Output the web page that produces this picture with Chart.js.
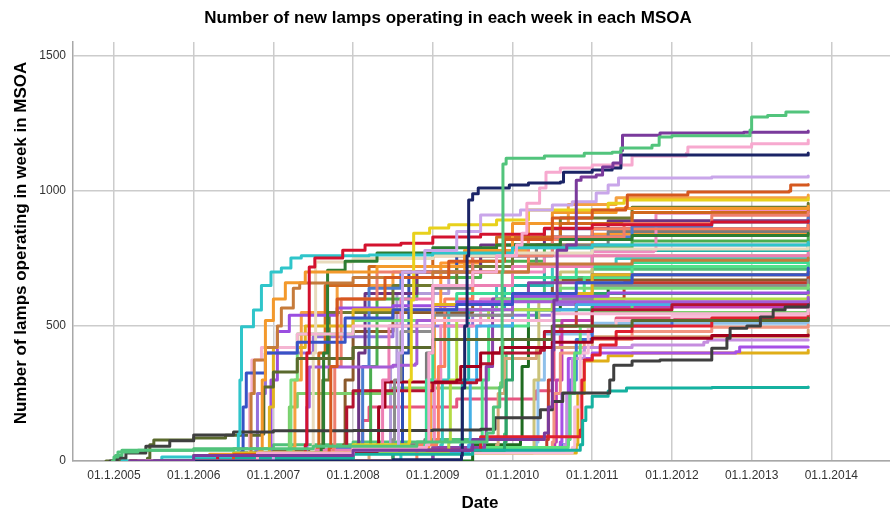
<!DOCTYPE html>
<html><head><meta charset="utf-8">
<script src="https://cdn.jsdelivr.net/npm/chart.js@4.4.0/dist/chart.umd.min.js"></script>
<style>html,body{margin:0;padding:0;background:#fff;}canvas{display:block;}</style>
</head><body>
<canvas id="c" width="890" height="516"></canvas>
<script>
const titleText = "Number of new lamps operating in each week in each MSOA";
const xTitleText = "Date";
const yTitleText = "Number of lamps operating in week in MSOA";
const xTickYears = [2005, 2006, 2007, 2008, 2009, 2010, 2011, 2012, 2013, 2014];
const yTickValues = [0, 500, 1000, 1500];
const xRange = [2004.486, 2014.736];
const yRange = [0, 1552];

// Each MSOA: [decimal year, cumulative lamps]
const msoa01 = [[2004.98,0],[2005.0,15],[2005.05,33],[2005.3,40],[2006.5,45],[2007.5,55],[2008.8,70],[2009.68,104],[2009.76,200],[2009.84,274],[2009.87,700],[2009.88,1100],[2009.92,1121],[2010.4,1130],[2010.9,1140],[2011.25,1144],[2011.36,1159],[2011.75,1170],[2011.84,1200],[2012.0,1205],[2012.98,1226],[2013.0,1274],[2013.2,1280],[2013.43,1293],[2013.71,1293]];
const msoa02 = [[2005.2,0],[2006.0,20],[2008.0,40],[2009.5,80],[2010.40,104],[2010.45,200],[2010.50,411],[2010.52,596],[2010.56,781],[2010.68,800],[2010.80,1040],[2010.86,1052],[2011.05,1059],[2011.13,1089],[2011.26,1104],[2011.36,1150],[2011.38,1207],[2011.85,1215],[2012.9,1218],[2013.71,1222]];
const msoa03 = [[2005.5,0],[2008.5,5],[2009.36,20],[2009.37,270],[2009.40,500],[2009.43,760],[2009.45,967],[2009.50,990],[2009.57,1011],[2009.96,1022],[2010.2,1030],[2010.6,1033],[2010.64,1070],[2011.0,1078],[2011.25,1085],[2011.36,1133],[2013.71,1141]];
const msoa04 = [[2005.4,0],[2006.8,30],[2008.0,50],[2008.92,60],[2008.95,400],[2009.0,650],[2009.5,700],[2009.8,760],[2010.05,800],[2010.12,844],[2010.18,955],[2010.34,1011],[2010.42,1070],[2010.6,1085],[2011.0,1096],[2011.5,1130],[2012.18,1140],[2012.2,1163],[2013.0,1175],[2013.71,1189]];
const msoa05 = [[2005.3,0],[2007.0,25],[2008.0,40],[2008.55,50],[2008.57,400],[2008.62,700],[2008.9,780],[2009.3,850],[2009.6,911],[2010.1,930],[2010.5,948],[2010.75,960],[2011.05,993],[2011.2,1022],[2011.33,1048],[2012.5,1052],[2013.71,1056]];
const msoa06 = [[2005.3,0],[2006.5,25],[2007.7,50],[2007.72,350],[2007.8,600],[2008.4,680],[2009.2,740],[2009.9,820],[2010.5,900],[2011.0,930],[2011.42,940],[2011.44,985],[2012.2,996],[2013.47,1000],[2013.49,1022],[2013.71,1024]];
const msoa07 = [[2005.4,0],[2006.5,30],[2008.0,60],[2008.70,70],[2008.71,300],[2008.73,596],[2008.76,844],[2008.96,863],[2009.2,875],[2009.8,893],[2010.2,930],[2011.2,955],[2011.4,967],[2013.71,974]];
const msoa08 = [[2005.2,0],[2006.3,20],[2007.40,60],[2007.42,400],[2007.45,719],[2007.52,752],[2007.87,781],[2008.15,800],[2008.6,807],[2009.0,830],[2009.6,840],[2010.4,862],[2011.0,875],[2012.5,885],[2013.71,890]];
const msoa09 = [[2005.1,0],[2005.6,15],[2006.5,30],[2006.56,100],[2006.58,300],[2006.60,497],[2006.75,559],[2006.85,650],[2006.97,700],[2007.1,715],[2007.22,752],[2007.35,760],[2008.2,763],[2009.0,770],[2010.0,790],[2011.0,800],[2013.71,810]];
const msoa10 = [[2004.95,0],[2005.04,10],[2005.15,30],[2005.4,55],[2005.7,75],[2006.0,96],[2006.5,107],[2007.0,112],[2008.0,113],[2009.0,115],[2009.6,118],[2009.78,160],[2010.35,190],[2010.5,220],[2010.63,252],[2011.18,252],[2011.22,300],[2011.27,355],[2011.5,370],[2011.85,374],[2012.50,418],[2012.69,455],[2012.73,492],[2012.94,500],[2013.11,533],[2013.27,560],[2013.42,570],[2013.71,578]];
const msoa11 = [[2005.3,0],[2006.0,10],[2008.0,25],[2009.5,40],[2010.85,60],[2010.88,150],[2010.92,200],[2011.0,240],[2011.2,259],[2011.43,270],[2012.5,272],[2013.71,274]];
const msoa12 = [[2005.3,0],[2006.2,25],[2006.83,40],[2006.86,300],[2006.9,520],[2007.0,600],[2007.15,660],[2007.4,700],[2008.3,720],[2009.4,780],[2010.0,880],[2010.5,920],[2011.3,935],[2013.71,944]];
const msoa13 = [[2005.2,0],[2006.0,15],[2006.70,30],[2006.72,250],[2006.76,374],[2006.9,420],[2007.05,500],[2007.1,567],[2007.25,640],[2007.33,659],[2008.0,680],[2009.0,700],[2010.2,730],[2011.5,744],[2013.71,752]];
const msoa14 = [[2005.3,0],[2006.2,20],[2006.60,35],[2006.62,200],[2006.66,326],[2006.9,400],[2007.3,440],[2007.9,530],[2008.5,560],[2009.3,580],[2010.0,620],[2010.8,660],[2011.5,690],[2013.71,715]];
const msoa15 = [[2005.4,0],[2006.68,20],[2006.70,250],[2006.73,374],[2006.85,420],[2007.3,470],[2008.0,500],[2009.0,520],[2010.5,545],[2013.71,559]];
const msoa16 = [[2004.9,0],[2005.42,10],[2005.45,60],[2005.5,78],[2006.0,85],[2006.4,95],[2006.85,100],[2006.88,274],[2007.0,330],[2007.3,380],[2008.0,420],[2009.0,450],[2010.5,500],[2011.5,520],[2013.71,530]];
const msoa17 = [[2005.3,0],[2006.5,30],[2007.60,50],[2007.63,400],[2007.68,707],[2007.9,740],[2008.3,770],[2009.0,790],[2009.8,800],[2010.6,820],[2011.5,835],[2013.71,844]];
const msoa18 = [[2005.5,0],[2007.0,30],[2007.48,40],[2007.50,400],[2007.53,737],[2008.0,750],[2009.0,760],[2010.0,770],[2011.0,785],[2013.71,793]];
const msoa19 = [[2005.3,0],[2006.9,20],[2006.95,200],[2007.0,420],[2007.4,500],[2008.0,560],[2009.0,580],[2010.0,620],[2011.0,690],[2013.71,700]];
const msoa20 = [[2005.3,0],[2006.5,20],[2006.95,40],[2006.97,300],[2007.05,480],[2007.2,540],[2007.8,567],[2008.5,575],[2009.3,590],[2010.0,610],[2011.2,622],[2013.71,626]];
const msoa21 = [[2005.4,0],[2007.0,25],[2007.4,40],[2007.42,200],[2007.45,348],[2008.5,355],[2008.78,360],[2008.8,520],[2009.0,560],[2010.0,590],[2013.71,607]];
const msoa22 = [[2005.3,0],[2006.0,20],[2007.2,35],[2007.22,300],[2007.3,470],[2008.0,520],[2009.0,560],[2009.8,600],[2010.6,640],[2013.71,652]];
const msoa23 = [[2005.5,0],[2007.0,30],[2007.75,50],[2007.77,350],[2007.85,600],[2008.3,700],[2009.5,760],[2010.5,830],[2011.4,880],[2012.5,910],[2013.71,922]];
const msoa24 = [[2005.3,0],[2007.5,40],[2008.35,60],[2008.37,300],[2008.45,500],[2008.6,600],[2009.0,650],[2010.0,720],[2011.0,760],[2013.71,770]];
const msoa25 = [[2005.4,0],[2007.8,50],[2008.1,60],[2008.12,350],[2008.2,640],[2008.6,700],[2009.5,760],[2010.5,830],[2011.5,870],[2012.5,885],[2013.71,900]];
const msoa26 = [[2005.3,0],[2008.0,40],[2008.9,60],[2008.92,300],[2009.0,560],[2009.3,620],[2010.0,680],[2010.8,720],[2011.5,735],[2013.71,744]];
const msoa27 = [[2005.3,0],[2008.0,50],[2008.5,80],[2008.52,300],[2008.6,480],[2009.0,540],[2010.0,600],[2011.0,650],[2013.71,670]];
const msoa28 = [[2005.3,0],[2007.0,30],[2008.3,60],[2008.32,200],[2008.4,293],[2009.3,300],[2009.35,350],[2009.6,400],[2009.85,420],[2010.5,440],[2011.0,455],[2012.5,465],[2013.71,467]];
const msoa29 = [[2005.5,0],[2008.0,40],[2009.6,90],[2010.85,115],[2010.87,300],[2010.9,374],[2011.0,393],[2011.1,430],[2011.3,480],[2011.5,500],[2012.5,530],[2013.71,548]];
const msoa30 = [[2005.3,0],[2006.5,20],[2007.9,40],[2007.92,200],[2008.0,260],[2009.0,290],[2009.55,300],[2009.6,360],[2009.75,400],[2010.35,410],[2010.4,480],[2011.0,560],[2012.0,580],[2013.71,589]];
const msoa31 = [[2005.4,0],[2008.8,60],[2009.05,80],[2009.07,350],[2009.15,600],[2009.5,700],[2010.2,820],[2011.0,860],[2013.71,874]];
const msoa32 = [[2005.3,0],[2007.5,35],[2009.2,70],[2009.22,300],[2009.3,520],[2009.7,560],[2010.5,600],[2013.71,615]];
const msoa33 = [[2005.3,0],[2008.0,30],[2009.45,60],[2009.47,300],[2009.55,500],[2010.0,560],[2010.8,580],[2013.71,596]];
const msoa34 = [[2005.5,0],[2009.0,50],[2009.65,70],[2009.67,350],[2009.75,600],[2010.2,660],[2011.0,690],[2013.71,700]];
const msoa35 = [[2005.3,0],[2008.5,40],[2009.9,70],[2009.92,300],[2010.0,520],[2010.3,560],[2011.0,620],[2013.71,640]];
const msoa36 = [[2005.4,0],[2009.0,50],[2010.70,80],[2010.72,250],[2010.78,400],[2010.85,500],[2011.0,560],[2011.5,580],[2013.71,585]];
const msoa37 = [[2005.5,0],[2009.0,30],[2010.75,50],[2010.78,200],[2010.85,400],[2010.95,500],[2011.3,520],[2012.0,535],[2013.71,570]];
const msoa38 = [[2005.4,0],[2009.0,40],[2010.65,60],[2010.68,250],[2010.75,380],[2010.9,420],[2011.5,430],[2012.4,440],[2012.45,448],[2013.71,448]];
const msoa39 = [[2005.3,0],[2008.0,40],[2010.60,70],[2010.62,250],[2010.7,380],[2011.0,400],[2012.8,405],[2012.85,422],[2013.71,422]];
const msoa40 = [[2005.3,0],[2008.0,30],[2010.80,60],[2010.82,250],[2010.9,370],[2011.2,390],[2011.5,400],[2013.71,410]];
const msoa41 = [[2005.3,0],[2009.0,40],[2010.6,60],[2010.70,80],[2010.72,300],[2010.8,450],[2011.0,500],[2012.0,520],[2013.71,559]];
const msoa42 = [[2005.3,0],[2008.5,40],[2010.50,70],[2010.52,250],[2010.6,400],[2010.9,450],[2011.5,480],[2012.5,495],[2013.71,504]];
const msoa43 = [[2005.4,0],[2008.2,40],[2009.80,60],[2009.82,250],[2009.9,380],[2010.3,420],[2011.0,460],[2013.71,485]];
const msoa44 = [[2005.3,0],[2006.9,30],[2007.55,50],[2007.57,400],[2007.65,650],[2008.2,720],[2009.0,760],[2009.8,830],[2010.6,880],[2011.5,920],[2013.71,937]];
const msoa45 = [[2005.2,0],[2006.0,20],[2007.60,40],[2007.62,300],[2007.7,550],[2008.5,650],[2009.3,720],[2010.0,800],[2010.6,900],[2011.5,940],[2013.71,955]];
const msoa46 = [[2005.3,0],[2006.8,30],[2007.25,50],[2007.27,300],[2007.35,550],[2007.8,650],[2008.5,700],[2009.4,780],[2010.2,880],[2010.7,950],[2011.3,975],[2013.71,985]];
const msoa47 = [[2005.4,0],[2007.6,40],[2008.05,60],[2008.07,400],[2008.15,620],[2008.8,700],[2009.6,800],[2010.4,860],[2011.2,890],[2013.71,911]];
const msoa48 = [[2005.3,0],[2007.5,40],[2009.00,60],[2009.02,300],[2009.1,500],[2009.6,600],[2010.0,700],[2010.4,760],[2011.0,775],[2011.77,781],[2011.80,918],[2012.5,925],[2013.71,930]];
const msoa49 = [[2005.5,0],[2008.5,60],[2008.90,80],[2008.92,400],[2009.0,640],[2009.5,720],[2010.3,800],[2011.2,850],[2013.71,874]];
const msoa50 = [[2005.3,0],[2007.0,30],[2008.20,50],[2008.22,350],[2008.3,600],[2008.8,680],[2009.6,740],[2010.4,790],[2011.5,815],[2013.71,830]];
const msoa51 = [[2005.4,0],[2008.5,40],[2009.35,60],[2009.37,300],[2009.45,560],[2009.9,650],[2010.4,720],[2011.0,780],[2013.71,807]];
const msoa52 = [[2005.3,0],[2008.0,30],[2010.25,50],[2010.27,300],[2010.33,596],[2010.6,700],[2011.0,760],[2013.71,793]];
const msoa53 = [[2005.4,0],[2008.0,40],[2009.60,60],[2009.62,300],[2009.7,500],[2010.2,600],[2010.9,680],[2011.5,720],[2013.71,733]];
const msoa54 = [[2005.3,0],[2008.6,40],[2009.10,60],[2009.12,300],[2009.2,560],[2009.8,650],[2010.5,720],[2011.3,750],[2013.71,763]];
const msoa55 = [[2005.3,0],[2009.0,50],[2010.43,80],[2010.45,300],[2010.5,500],[2010.8,600],[2011.4,660],[2013.71,685]];
const msoa56 = [[2005.5,0],[2008.0,40],[2008.60,60],[2008.62,400],[2008.7,700],[2009.3,760],[2010.2,820],[2011.0,860],[2013.71,881]];
const msoa57 = [[2005.3,0],[2006.6,30],[2006.78,40],[2006.80,250],[2006.9,400],[2007.5,460],[2008.5,500],[2009.5,540],[2010.5,580],[2013.71,596]];
const msoa58 = [[2005.3,0],[2009.5,60],[2010.10,80],[2010.12,350],[2010.2,560],[2010.6,620],[2011.2,650],[2013.71,670]];
const msoa59 = [[2005.3,0],[2008.0,40],[2008.95,70],[2008.97,300],[2009.02,560],[2009.1,733],[2009.6,760],[2010.3,800],[2011.0,840],[2013.71,863]];
const msoa60 = [[2005.4,0],[2009.0,40],[2010.53,70],[2010.55,300],[2010.62,520],[2011.0,570],[2013.71,607]];
const msoa61 = [[2005.3,0],[2009.0,50],[2010.30,70],[2010.32,300],[2010.4,470],[2011.0,510],[2013.71,530]];
const msoa62 = [[2005.3,0],[2006.5,20],[2007.18,40],[2007.20,200],[2007.3,250],[2008.5,270],[2009.85,290],[2009.88,450],[2010.0,520],[2011.0,550],[2013.71,570]];
const msoa63 = [[2005.3,0],[2007.0,30],[2008.10,40],[2008.12,150],[2008.2,200],[2009.3,230],[2010.3,260],[2010.50,300],[2010.52,420],[2010.6,500],[2011.3,530],[2013.71,548]];
const msoa64 = [[2005.3,0],[2007.0,40],[2007.88,60],[2007.90,300],[2008.0,480],[2008.5,550],[2009.5,620],[2010.5,670],[2013.71,700]];
const msoa65 = [[2005.4,0],[2007.5,40],[2008.45,60],[2008.47,350],[2008.55,620],[2009.2,700],[2010.0,760],[2011.0,800],[2013.71,818]];
const msoa66 = [[2004.98,0],[2005.02,20],[2005.1,40],[2006.0,45],[2007.0,60],[2008.0,70],[2009.0,80],[2009.90,100],[2009.92,400],[2010.0,600],[2010.4,680],[2011.0,710],[2013.71,730]];

const msoaSeries = [msoa01,msoa02,msoa03,msoa04,msoa05,msoa06,msoa07,msoa08,msoa09,msoa10,msoa11,msoa12,msoa13,msoa14,msoa15,msoa16,msoa17,msoa18,msoa19,msoa20,msoa21,msoa22,msoa23,msoa24,msoa25,msoa26,msoa27,msoa28,msoa29,msoa30,msoa31,msoa32,msoa33,msoa34,msoa35,msoa36,msoa37,msoa38,msoa39,msoa40,msoa41,msoa42,msoa43,msoa44,msoa45,msoa46,msoa47,msoa48,msoa49,msoa50,msoa51,msoa52,msoa53,msoa54,msoa55,msoa56,msoa57,msoa58,msoa59,msoa60,msoa61,msoa62,msoa63,msoa64,msoa65,msoa66];

const lineColors = ['#52c47c','#7a3a9c','#1b2466','#f7a9cf','#c9a6ea','#d5581f','#e8d11c','#d3122e','#2fc5ca','#3f3f3f','#15b1a0','#f3992c','#c67b3b','#3853c6','#f5b5d2','#5a6a2d','#2d7d32','#e8dbbd','#e2b41f','#9a4ee0','#a55bd6','#79dc79','#ee7f6e','#ec7fb3','#4a7ccf','#3ddc96','#8d8d8d','#a3001c','#e0202f','#b4122f','#fb7f5e','#b4db45','#45b0e6','#8c44ab','#2ea36a','#5fe07b','#f8bfd8','#c58ddf','#a650e6','#e0ae18','#3f70d6','#f29580','#d7a778','#d0681e','#6f7a30','#f5a140','#6b3482','#ef8cc0','#7c7c7c','#4bae4f','#21b1a9','#cbc37b','#52e08a','#3cc8c0','#c23a2c','#2f50b6','#9471da','#1f6b20','#ff9933','#c13fb1','#8fc0ea','#7ccf6c','#e65580','#8b5a2b','#b29cd9','#50c17a'];

const FONT = '"Liberation Sans", Arial, sans-serif';

const textPlugin = {
  id: 'texts',
  afterDraw(chart) {
    const ctx = chart.ctx;
    ctx.save();
    ctx.fillStyle = '#000';
    ctx.textAlign = 'center';
    ctx.textBaseline = 'middle';
    ctx.font = 'bold 17px ' + FONT;
    ctx.fillText(titleText, 448, 18);
    ctx.font = 'bold 17px ' + FONT;
    ctx.fillText(xTitleText, 480, 503);
    ctx.translate(21, 243);
    ctx.rotate(-Math.PI / 2);
    ctx.fillText(yTitleText, 0, 0);
    ctx.restore();
  }
};

const datasets = msoaSeries.map((s, i) => ({
  label: 'MSOA ' + (i + 1),
  data: s,
  borderColor: lineColors[i % lineColors.length],
  backgroundColor: lineColors[i % lineColors.length],
  borderWidth: 3,
  pointRadius: 0,
  stepped: true,
  fill: false,
  borderJoinStyle: 'round',
  borderCapStyle: 'round'
}));

new Chart(document.getElementById('c'), {
  type: 'line',
  data: { datasets },
  options: {
    responsive: false,
    animation: false,
    devicePixelRatio: 1,
    layout: { padding: { top: 42, left: 0, right: 0, bottom: 0 } },
    plugins: { legend: { display: false }, title: { display: false }, tooltip: { enabled: false } },
    scales: {
      x: {
        type: 'linear',
        min: xRange[0], max: xRange[1],
        afterBuildTicks: s => { s.ticks = xTickYears.map(v => ({ value: v })); },
        afterFit: s => { s.height = 55; },
        ticks: { callback: v => '01.1.' + v, color: '#333', font: { size: 12, family: FONT }, padding: 7, maxRotation: 0, autoSkip: false },
        grid: { color: '#cccccc', lineWidth: 1.5, drawTicks: false },
        border: { display: true, color: '#a8a8a8', width: 1.5 }
      },
      y: {
        type: 'linear',
        min: yRange[0], max: yRange[1],
        afterBuildTicks: s => { s.ticks = yTickValues.map(v => ({ value: v })); },
        afterFit: s => { s.width = 73; },
        ticks: { callback: v => String(v), color: '#333', font: { size: 12, family: FONT }, padding: 7 },
        grid: { color: '#cccccc', lineWidth: 1.5, drawTicks: false },
        border: { display: true, color: '#a8a8a8', width: 1.5 }
      }
    }
  },
  plugins: [textPlugin]
});
</script>
</body></html>
